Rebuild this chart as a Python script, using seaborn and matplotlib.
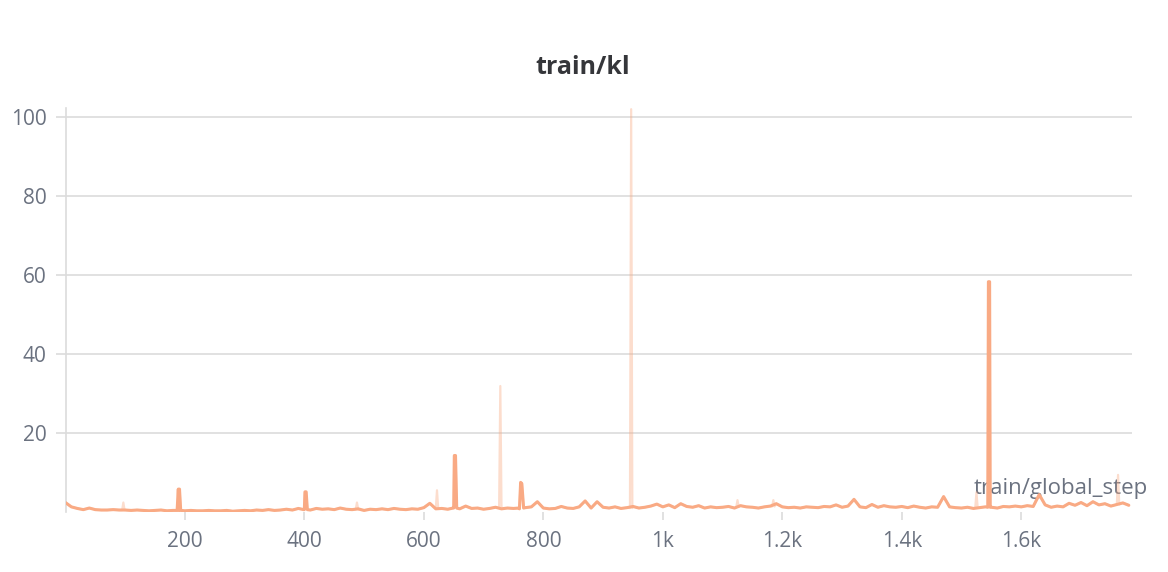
import matplotlib
matplotlib.use("Agg")
import matplotlib.pyplot as plt
import pandas as pd
import seaborn as sns

# baseline of train/kl, one reading every 10 steps (0 .. 1780)
base_steps = list(range(0, 1790, 10))
base_kl = [
    2.4, 1.3, 0.9, 0.6, 1.0, 0.6, 0.5, 0.5, 0.6, 0.5,
    0.5, 0.4, 0.5, 0.4, 0.3, 0.4, 0.5, 0.3, 0.4, 0.4,
    0.3, 0.4, 0.3, 0.3, 0.4, 0.3, 0.3, 0.4, 0.2, 0.3,
    0.4, 0.3, 0.5, 0.4, 0.6, 0.4, 0.5, 0.7, 0.5, 0.9,
    0.6, 0.5, 0.9, 0.7, 0.8, 0.6, 1.0, 0.7, 0.6, 0.8,
    0.4, 0.7, 0.6, 0.8, 0.6, 0.9, 0.7, 0.6, 0.8, 0.7,
    1.1, 2.2, 0.8, 0.9, 0.7, 1.0, 0.8, 1.5, 0.9, 1.0,
    0.7, 0.9, 1.2, 0.8, 1.0, 0.9, 0.8, 1.1, 1.3, 2.6,
    1.0, 0.8, 0.9, 1.4, 1.0, 0.9, 1.3, 2.8, 1.0, 2.6,
    1.2, 1.0, 1.3, 0.9, 1.1, 1.4, 1.0, 1.2, 1.5, 2.0,
    1.3, 1.8, 1.1, 2.1, 1.4, 1.2, 1.6, 1.0, 1.3, 1.1,
    1.2, 1.4, 1.0, 1.6, 1.3, 1.2, 1.0, 1.3, 1.5, 2.1,
    1.3, 1.1, 1.2, 1.0, 1.3, 1.2, 1.1, 1.4, 1.3, 1.8,
    1.2, 1.5, 3.2, 1.3, 1.1, 1.9, 1.2, 1.6, 1.3, 1.2,
    1.4, 1.1, 1.5, 1.2, 1.0, 1.3, 1.2, 3.9, 1.3, 1.1,
    1.0, 1.2, 0.9, 1.1, 1.3, 1.2, 1.0, 1.4, 1.3, 1.5,
    1.3, 1.6, 1.4, 4.4, 1.8, 1.2, 1.5, 1.3, 2.2, 1.7,
    2.4, 1.6, 2.6, 1.8, 2.1, 1.5, 1.9, 2.3, 1.7,
]

# spikes visible on the solid line
spike_steps = [187, 189, 191, 193,
               399, 401, 403, 405,
               649, 651, 653, 655,
               759, 762, 764, 767,
               1544, 1545, 1547, 1548]
spike_kl = [0.4, 5.8, 5.8, 0.4,
            0.6, 5.1, 5.1, 0.6,
            1.0, 14.3, 14.3, 1.0,
            1.0, 7.5, 7.2, 1.0,
            1.2, 58.3, 58.3, 1.2]

# spikes only on the faint (raw) line
raw_spike_steps = [95, 97, 99,
                   486, 488, 490,
                   620, 622, 624,
                   726, 728, 730,
                   945, 947, 949,
                   1123, 1125, 1127,
                   1183, 1185, 1187,
                   1523, 1525, 1527,
                   1760, 1762, 1764]
raw_spike_kl = [0.5, 2.4, 0.5,
                0.6, 2.4, 0.6,
                0.9, 5.5, 0.9,
                1.0, 31.9, 1.0,
                1.0, 102.0, 1.0,
                1.3, 3.0, 1.3,
                1.4, 3.0, 1.4,
                1.1, 5.0, 1.1,
                1.9, 9.4, 1.9]

y_ticks = [20, 40, 60, 80, 100]
x_ticks = [200, 400, 600, 800, 1000, 1200, 1400, 1600]
x_tick_labels = ["200", "400", "600", "800", "1k", "1.2k", "1.4k", "1.6k"]

LINE = "#f9aa84"
GRID = "#dcdcdc"
TEXT = "#6b7280"

solid = pd.DataFrame({"step": base_steps + spike_steps, "kl": base_kl + spike_kl})
solid = solid.sort_values("step", kind="stable")
raw = pd.DataFrame({
    "step": base_steps + spike_steps + raw_spike_steps,
    "kl": base_kl + spike_kl + raw_spike_kl,
}).sort_values("step", kind="stable")

sns.set_theme(style="white")
plt.rcParams["font.family"] = ["Open Sans", "DejaVu Sans"]

fig = plt.figure(figsize=(11.68, 5.72), dpi=100)
ax = fig.add_axes([0.0565, 0.1049, 0.9125, 0.7063])

sns.lineplot(data=raw, x="step", y="kl", ax=ax, color=LINE, alpha=0.4,
             linewidth=1.6, estimator=None, sort=False, zorder=3)
sns.lineplot(data=solid, x="step", y="kl", ax=ax, color=LINE,
             linewidth=2.2, estimator=None, sort=False, zorder=4)

ax.set_xlim(1, 1785)
ax.set_ylim(0, 102.3)
ax.set_yticks(y_ticks)
ax.set_xticks(x_ticks)
ax.set_xticklabels(x_tick_labels)
ax.yaxis.grid(True, color=GRID, linewidth=1.2)
ax.xaxis.grid(False)
ax.set_axisbelow(True)

for side in ["top", "right", "bottom"]:
    ax.spines[side].set_visible(False)
ax.spines["left"].set_color(GRID)
ax.spines["left"].set_linewidth(1.2)

ax.tick_params(axis="y", left=True, length=7, width=1.2, color=GRID,
               labelsize=15, labelcolor=TEXT, pad=7)
ax.tick_params(axis="x", bottom=True, length=6, width=1.2, color=GRID,
               labelsize=15, labelcolor=TEXT, pad=8)

ax.set_xlabel("")
ax.set_ylabel("")
# step label sits behind the lines, as in the wandb panel
ax.text(1.015, 0.057, "train/global_step", transform=ax.transAxes,
        ha="right", va="center", fontsize=16, color=TEXT, zorder=2,
        clip_on=False)

fig.text(583 / 1168, 1 - 68 / 572, "train/kl", ha="center", va="center",
         fontsize=18, fontweight="bold", color="#35363a")

fig.savefig("out.png", dpi=100)
